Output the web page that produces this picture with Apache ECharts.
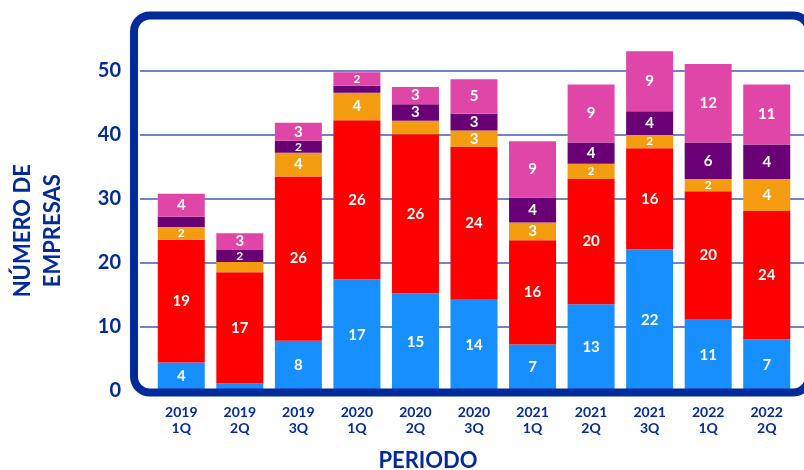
<!DOCTYPE html>
<html>
<head>
<meta charset="utf-8">
<script src="https://cdn.jsdelivr.net/npm/echarts@6/dist/echarts.min.js"></script>
<style>
html,body{margin:0;padding:0;background:#fff;}
#chart{width:804px;height:470px;}
</style>
</head>
<body>
<div id="chart"></div>
<script>
const categories = ['2019\n1Q','2019\n2Q','2019\n3Q','2020\n1Q','2020\n2Q','2020\n3Q','2021\n1Q','2021\n2Q','2021\n3Q','2022\n1Q','2022\n2Q'];
const blueValues   = [4.4, 1.1, 7.8, 17.4, 15.2, 14.2, 7.2, 13.5, 22.1, 11.2, 8.0];
const redValues    = [19.2, 17.4, 25.7, 24.9, 24.9, 23.9, 16.3, 19.6, 15.8, 20.0, 20.1];
const orangeValues = [2.0, 1.6, 3.7, 4.3, 2.1, 2.6, 2.8, 2.4, 2.1, 1.9, 5.0];
const purpleValues = [1.6, 1.9, 1.9, 1.1, 2.6, 2.6, 3.9, 3.3, 3.7, 5.7, 5.4];
const pinkValues   = [3.6, 2.6, 2.8, 2.1, 2.7, 5.4, 8.8, 9.1, 9.4, 12.3, 9.4];

const blueLabels   = ['4','','8','17','15','14','7','13','22','11','7'];
const redLabels    = ['19','17','26','26','26','24','16','20','16','20','24'];
const orangeLabels = ['2','','4','4','','3','3','2','2','2','4'];
const purpleLabels = ['','2','2','','3','3','4','4','4','6','4'];
const pinkLabels   = ['4','3','3','2','3','5','9','9','9','12','11'];

const yTicks = [0, 50, 10];

const NAVY = '#012A9B';
const FONT = 'Lato, "Noto Sans", sans-serif';

function mkSeries(name, values, labels, color) {
  return {
    name: name,
    type: 'bar',
    stack: 'total',
    xAxisIndex: 0,
    yAxisIndex: 0,
    barWidth: 47,
    clip: false,
    itemStyle: { color: color },
    data: values.map((v, i) => ({
      value: v,
      label: {
        show: labels[i] !== '',
        position: 'inside',
        formatter: labels[i],
        color: '#ffffff',
        fontFamily: FONT,
        fontWeight: 'bold',
        fontSize: v < 2.5 ? 12 : 15
      }
    }))
  };
}

const chart = echarts.init(document.getElementById('chart'), null, { renderer: 'canvas' });
chart.setOption({
  animation: false,
  backgroundColor: '#ffffff',
  grid: [
    { left: 152, right: 8, top: 71, bottom: 79.5 },
    { left: 138, right: 0, top: 71, bottom: 79.5 }
  ],
  xAxis: [
    {
      gridIndex: 0,
      type: 'category',
      data: categories,
      axisLine: { show: false },
      axisTick: { show: false },
      axisLabel: {
        color: NAVY, fontFamily: FONT, fontWeight: 'bold', fontSize: 14,
        lineHeight: 16, margin: 14, interval: 0
      }
    },
    { gridIndex: 1, type: 'value', show: false }
  ],
  yAxis: [
    {
      gridIndex: 0, type: 'value', min: yTicks[0], max: yTicks[1], interval: yTicks[2],
      show: false, splitLine: { show: false }
    },
    {
      gridIndex: 1, type: 'value', min: yTicks[0], max: yTicks[1], interval: yTicks[2],
      axisLine: { show: false },
      axisTick: { show: false },
      axisLabel: {
        color: NAVY, fontFamily: FONT, fontWeight: 'bold', fontSize: 20, margin: 19
      },
      splitLine: { show: true, lineStyle: { color: '#3c5ab8', width: 1.5 } },
      name: 'NÚMERO DE\nEMPRESAS',
      nameLocation: 'middle',
      nameRotate: 90,
      nameGap: 72,
      nameTextStyle: {
        color: NAVY, fontFamily: FONT, fontWeight: 'bold', fontSize: 22, lineHeight: 30
      }
    }
  ],
  graphic: [
    {
      type: 'rect',
      z: 100,
      shape: { x: 134, y: 15.5, width: 675, height: 377, r: 16 },
      style: { fill: 'none', stroke: NAVY, lineWidth: 8 }
    },
    {
      type: 'text',
      z: 100,
      x: 428,
      y: 461,
      style: {
        text: 'PERIODO',
        fill: NAVY,
        font: 'bold 22px ' + FONT,
        textAlign: 'center',
        textVerticalAlign: 'middle'
      }
    }
  ],
  series: [
    mkSeries('A', blueValues, blueLabels, '#188FFE'),
    mkSeries('B', redValues, redLabels, '#FE0000'),
    mkSeries('C', orangeValues, orangeLabels, '#F39C0F'),
    mkSeries('D', purpleValues, purpleLabels, '#6A0076'),
    mkSeries('E', pinkValues, pinkLabels, '#DF46A7')
  ]
});
</script>
</body>
</html>
